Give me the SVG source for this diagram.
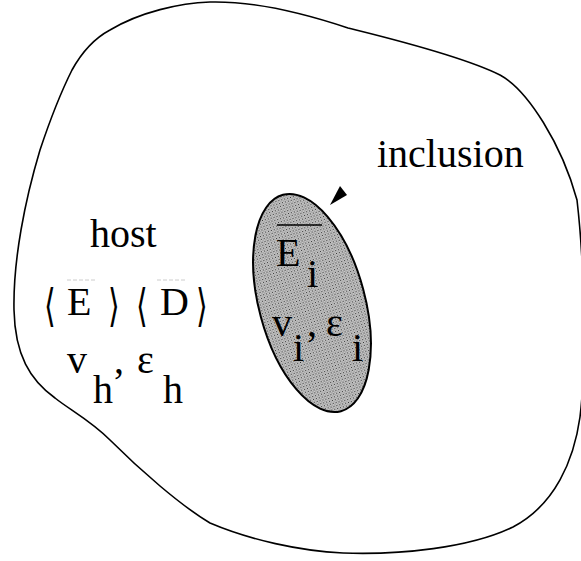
<svg xmlns="http://www.w3.org/2000/svg" width="581" height="561" viewBox="0 0 581 561">
<style>
.t{font-family:"Liberation Serif","Times New Roman",serif;font-size:40px;fill:#000}
.br{font-family:"DejaVu Serif","Liberation Serif",serif;font-size:30px;fill:#000}
.ob{stroke:#000;stroke-width:1.6;fill:none}
</style>
<defs>
<pattern id="dots" width="3" height="3" patternUnits="userSpaceOnUse">
<rect width="3" height="3" fill="#c8c8c8"/>
<rect width="1" height="1" fill="#333"/>
<rect x="1.5" y="1.5" width="1" height="1" fill="#555"/>
</pattern>
</defs>
<rect width="581" height="561" fill="#fff"/>
<g id="host">
<path class="ob" d="M348,28 C380,36 460,55 500,75 C528,90 562,145 577,200 C584,260 587,360 580,417 C574,460 555,505 513,527 C470,548 400,555 343,553 C300,551 250,540 210,523 C180,505 140,470 110,440 C90,420 70,410 55,398 C30,380 15,355 14,310 C13,260 25,200 40,150 C50,120 62,90 72,70 C82,52 95,38 110,30 C140,12 180,3 210,2 C250,1 300,12 348,28 Z"/>
<text class="t" x="90" y="247">host</text>
<text class="br" x="44" y="314" transform="translate(0,-150) scale(1,1.5)">⟨</text>
<text class="t" x="67" y="315">E</text>
<text class="br" x="108" y="314" transform="translate(0,-150) scale(1,1.5)">⟩</text>
<text class="br" x="136" y="314" transform="translate(0,-150) scale(1,1.5)">⟨</text>
<text class="t" x="160" y="315">D</text>
<text class="br" x="196" y="314" transform="translate(0,-150) scale(1,1.5)">⟩</text>
<line x1="67" y1="280" x2="95" y2="280" stroke="#ccc" stroke-width="1" stroke-dasharray="4,2"/>
<line x1="157" y1="280" x2="187" y2="280" stroke="#ccc" stroke-width="1" stroke-dasharray="4,2"/>
<text class="t" x="67" y="373">v</text>
<text class="t" x="93" y="403">h</text>
<text class="t" x="114" y="373">,</text>
<text class="t" x="137" y="373">ε</text>
<text class="t" x="163" y="403">h</text>
</g>
<g id="inclusion">
<ellipse cx="312" cy="303" rx="53" ry="112" transform="rotate(-15 312 303)" fill="url(#dots)" stroke="#000" stroke-width="2"/>
<line x1="277" y1="225" x2="322" y2="225" stroke="#000" stroke-width="1.5"/>
<text class="t" x="276" y="266">E</text>
<text class="t" x="307" y="287">i</text>
<text class="t" x="272" y="336">v</text>
<text class="t" x="293" y="361">i</text>
<text class="t" x="307" y="336">,</text>
<text class="t" x="326" y="336">ε</text>
<text class="t" x="352" y="361">i</text>
<text class="t" x="377" y="167">inclusion</text>
</g>
<g id="connectors">
<polygon points="330,205 340,186 347,195" fill="#000"/>
</g>
</svg>
